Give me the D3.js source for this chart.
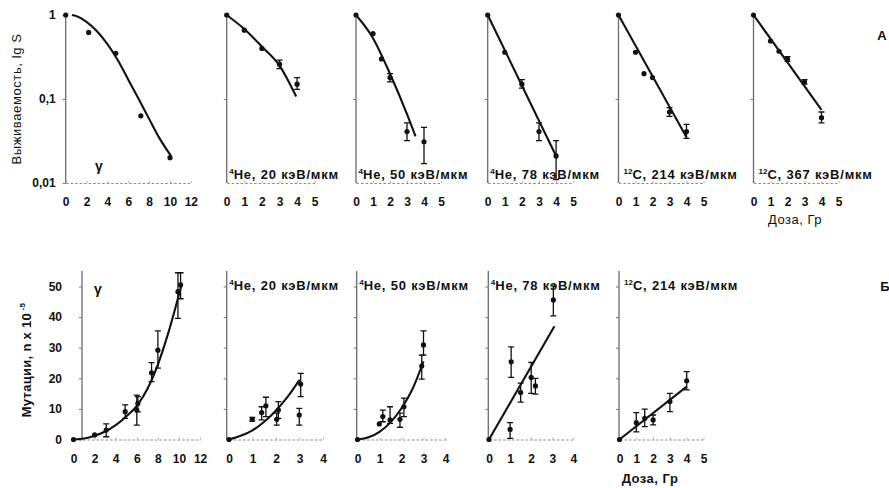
<!DOCTYPE html>
<html><head><meta charset="utf-8">
<script src="https://cdn.jsdelivr.net/npm/d3@7"></script>
<style>
body{margin:0;background:#fff}
svg text{font-family:"Liberation Sans",Arial,sans-serif;fill:#111}
</style>
</head><body>
<svg id="c" width="889" height="488"></svg>
<script>
// ================= DATA =================
// --- A: survival (lg S) vs dose (Gy) ---
const survGammaDose = [0, 2.2, 4.8, 7.2, 10];
const survGammaVal  = [1, 0.62, 0.35, 0.063, 0.02];
const survGammaLo   = [null, null, null, null, null];
const survGammaHi   = [null, null, null, null, null];
const survGammaFitDose = [0.6, 1, 2, 3, 4, 5, 6, 7, 8, 9, 10.1];
const survGammaFitVal  = [1, 0.97, 0.83, 0.64, 0.45, 0.29, 0.17, 0.1, 0.058, 0.034, 0.021];

const survHe20Dose = [0, 1, 2, 3, 4];
const survHe20Val  = [1, 0.66, 0.40, 0.26, 0.15];
const survHe20Lo   = [null, null, null, 0.23, 0.13];
const survHe20Hi   = [null, null, null, 0.29, 0.18];
const survHe20FitDose = [0, 1, 2, 3, 3.95];
const survHe20FitVal  = [1, 0.68, 0.42, 0.25, 0.107];

const survHe50Dose = [0, 1, 1.5, 2, 3, 4];
const survHe50Val  = [1, 0.6, 0.3, 0.18, 0.041, 0.031];
const survHe50Lo   = [null, null, null, 0.16, 0.032, 0.017];
const survHe50Hi   = [null, null, null, 0.2, 0.052, 0.046];
const survHe50FitDose = [0, 1, 2, 3, 3.5];
const survHe50FitVal  = [1, 0.53, 0.2, 0.066, 0.036];

const survHe78Dose = [0, 1, 2, 3, 4];
const survHe78Val  = [1, 0.36, 0.15, 0.041, 0.021];
const survHe78Lo   = [null, null, 0.135, 0.032, 0.011];
const survHe78Hi   = [null, null, 0.17, 0.052, 0.032];
const survHe78FitDose = [0, 4];
const survHe78FitVal  = [1, 0.021];

const survC214Dose = [0, 1, 1.5, 2, 3, 4];
const survC214Val  = [1, 0.36, 0.2, 0.18, 0.07, 0.041];
const survC214Lo   = [null, null, null, null, 0.062, 0.034];
const survC214Hi   = [null, null, null, null, 0.079, 0.05];
const survC214FitDose = [0, 4];
const survC214FitVal  = [1, 0.035];

const survC367Dose = [0, 1, 1.5, 2, 3, 4];
const survC367Val  = [1, 0.49, 0.37, 0.3, 0.16, 0.06];
const survC367Lo   = [null, null, null, 0.28, 0.15, 0.052];
const survC367Hi   = [null, null, null, 0.32, 0.17, 0.07];
const survC367FitDose = [0, 4];
const survC367FitVal  = [1, 0.074];

// --- Б: mutations (n x 10^-5) vs dose (Gy) ---
const mutGammaDose = [0, 2, 3.1, 4.9, 6, 6.1, 7.4, 8, 9.9, 10.15];
const mutGammaVal  = [0, 1.5, 3.1, 9.1, 9.6, 11.8, 21.8, 29.2, 48.3, 50.5];
const mutGammaLo   = [null, null, 0.9, 6.9, 4.7, 9, 18.9, 23.3, 39.6, 46];
const mutGammaHi   = [null, null, 5.1, 11.3, 14.5, 14, 25.1, 35.5, 54.5, 54.5];
const mutGammaFitDose = [0, 1, 2, 3, 4, 5, 6, 7, 8, 9, 10.2];
const mutGammaFitVal  = [0, 0.3, 1.2, 2.6, 4.7, 7.5, 11, 16.5, 24.5, 35, 50];

const mutHe20Dose = [0, 0.99, 1.39, 1.57, 2.03, 2.1, 2.99, 3.05];
const mutHe20Val  = [0, 6.6, 8.8, 11, 6.6, 9.6, 8, 18.1];
const mutHe20Lo   = [null, 6, 6.4, 7.5, 4.7, 6.9, 4.7, 14];
const mutHe20Hi   = [null, 7.2, 10.7, 13.8, 8.6, 12.4, 10.2, 21.6];
const mutHe20FitDose = [0, 0.5, 1, 1.5, 2, 2.5, 3];
const mutHe20FitVal  = [0, 1.2, 3, 5.8, 9.5, 14, 19.5];

const mutHe50Dose = [0, 0.99, 1.15, 1.48, 1.93, 2.11, 2.92, 3.0];
const mutHe50Val  = [0, 5.1, 7.5, 6.4, 6.6, 10.7, 24, 30.9];
const mutHe50Lo   = [null, null, 5.8, 5.3, 4, 7.5, 19.7, 27.6];
const mutHe50Hi   = [null, null, 9.6, 10.7, 8.6, 13.5, 27.6, 35.5];
const mutHe50FitDose = [0, 0.5, 1, 1.5, 2, 2.5, 3];
const mutHe50FitVal  = [0, 0.7, 2.5, 5.6, 10.2, 16.5, 25.5];

const mutHe78Dose = [0, 1.0, 1.05, 1.5, 2.0, 2.2, 3.05];
const mutHe78Val  = [0, 3.3, 25.4, 15.4, 20.3, 17.5, 45.6];
const mutHe78Lo   = [null, 0.4, 20.3, 12.2, 15.1, 14.8, 40.4];
const mutHe78Hi   = [null, 5.5, 30.3, 18.4, 25.2, 20, 50.2];
const mutHe78FitDose = [0, 3.1];
const mutHe78FitVal  = [0, 37];

const mutC214Dose = [0, 1, 1.5, 2, 3, 4];
const mutC214Val  = [0, 5.5, 6.9, 6.4, 12.4, 19.2];
const mutC214Lo   = [null, 2.5, 4.2, 4.8, 9.1, 16.2];
const mutC214Hi   = [null, 8.8, 9.9, 8, 15.1, 22.2];
const mutC214FitDose = [0, 4];
const mutC214FitVal  = [0, 17.3];

// tick labels
const survTickValues = [1, 0.1, 0.01];
const survTickLabels = ["1", "0,1", "0,01"];
const mutTickValues = [0, 10, 20, 30, 40, 50];
const doseTicks12 = [0, 2, 4, 6, 8, 10, 12];
const doseTicks5 = [0, 1, 2, 3, 4, 5];
const doseTicks4 = [0, 1, 2, 3, 4];

// ================= LAYOUT / RENDER =================
const svg = d3.select("#c");
const FONT = '"Liberation Sans",Arial,sans-serif';
const topY = d3.scaleLog().domain([0.01, 1]).range([183, 15]);
const botY = d3.scaleLinear().domain([0, 50]).range([439.5, 286.5]);

function zipPts(d, v, lo, hi) { return d.map((x, i) => ({x, y: v[i], lo: lo[i], hi: hi[i]})); }
function zipFit(d, v) { return d.map((x, i) => ({x, y: v[i]})); }

const topPanels = [
  {x0: 65.7, k: 10.43, max: 12, ticks: doseTicks12, sup: null, name: "γ", lx: 99, ly: 171, gamma: true,
   pts: zipPts(survGammaDose, survGammaVal, survGammaLo, survGammaHi), fit: zipFit(survGammaFitDose, survGammaFitVal), curve: d3.curveMonotoneX},
  {x0: 226.7, k: 17.6, max: 5, ticks: doseTicks5, sup: "4", name: "He, 20 кэВ/мкм", dx: 2.5,
   pts: zipPts(survHe20Dose, survHe20Val, survHe20Lo, survHe20Hi), fit: zipFit(survHe20FitDose, survHe20FitVal), curve: d3.curveMonotoneX},
  {x0: 356, k: 17, max: 5, ticks: doseTicks5, sup: "4", name: "He, 50 кэВ/мкм", dx: 2.5,
   pts: zipPts(survHe50Dose, survHe50Val, survHe50Lo, survHe50Hi), fit: zipFit(survHe50FitDose, survHe50FitVal), curve: d3.curveMonotoneX},
  {x0: 487.7, k: 17.1, max: 5, ticks: doseTicks5, sup: "4", name: "He, 78 кэВ/мкм", dx: 2.5,
   pts: zipPts(survHe78Dose, survHe78Val, survHe78Lo, survHe78Hi), fit: zipFit(survHe78FitDose, survHe78FitVal), curve: d3.curveLinear},
  {x0: 618.5, k: 17, max: 5, ticks: doseTicks5, sup: "12", name: "C, 214 кэВ/мкм", dx: 5,
   pts: zipPts(survC214Dose, survC214Val, survC214Lo, survC214Hi), fit: zipFit(survC214FitDose, survC214FitVal), curve: d3.curveLinear},
  {x0: 753.5, k: 17, max: 5, ticks: doseTicks5, sup: "12", name: "C, 367 кэВ/мкм", dx: 5,
   pts: zipPts(survC367Dose, survC367Val, survC367Lo, survC367Hi), fit: zipFit(survC367FitDose, survC367FitVal), curve: d3.curveLinear}
];

const botPanels = [
  {x0: 73.5, k: 10.55, max: 12, ticks: doseTicks12, axisX: 82, sup: null, name: "γ", lx: 98, ly: 294, gamma: true,
   pts: zipPts(mutGammaDose, mutGammaVal, mutGammaLo, mutGammaHi), fit: zipFit(mutGammaFitDose, mutGammaFitVal), curve: d3.curveMonotoneX},
  {x0: 229, k: 23.5, max: 4, ticks: doseTicks4, axisX: 226.7, sup: "4", name: "He, 20 кэВ/мкм", dx: 2.5,
   pts: zipPts(mutHe20Dose, mutHe20Val, mutHe20Lo, mutHe20Hi), fit: zipFit(mutHe20FitDose, mutHe20FitVal), curve: d3.curveMonotoneX},
  {x0: 357.5, k: 22, max: 4, ticks: doseTicks4, axisX: 356.7, sup: "4", name: "He, 50 кэВ/мкм", dx: 2.5,
   pts: zipPts(mutHe50Dose, mutHe50Val, mutHe50Lo, mutHe50Hi), fit: zipFit(mutHe50FitDose, mutHe50FitVal), curve: d3.curveMonotoneX},
  {x0: 489, k: 21.1, max: 4, ticks: doseTicks4, axisX: 488.3, sup: "4", name: "He, 78 кэВ/мкм", dx: 2.5,
   pts: zipPts(mutHe78Dose, mutHe78Val, mutHe78Lo, mutHe78Hi), fit: zipFit(mutHe78FitDose, mutHe78FitVal), curve: d3.curveLinear},
  {x0: 619.5, k: 16.8, max: 5, ticks: doseTicks5, axisX: 619, sup: "12", name: "C, 214 кэВ/мкм", dx: 5,
   pts: zipPts(mutC214Dose, mutC214Val, mutC214Lo, mutC214Hi), fit: zipFit(mutC214FitDose, mutC214FitVal), curve: d3.curveLinear}
];

function drawPanel(p, y, isTop, first) {
  const x = d3.scaleLinear().domain([0, p.max]).range([p.x0, p.x0 + p.k * p.max]);
  const g = svg.append("g");
  const y0 = y.range()[0];
  const axX = isTop ? p.x0 : p.axisX;
  const yTop = isTop ? 14 : 271;

  // x axis (dotted baseline)
  const xa = d3.axisBottom(x).tickValues(p.ticks).tickSizeInner(-2).tickSizeOuter(0).tickPadding(14.5)
    .tickFormat(d3.format("d"));
  const gx = g.append("g").attr("transform", `translate(0,${y0})`).call(xa);
  gx.select(".domain").attr("stroke", "#8a8a8a").attr("stroke-width", 1.1).attr("stroke-dasharray", "2.5,2");
  gx.selectAll(".tick line").attr("stroke", "#999").attr("stroke-width", 0.8);
  gx.selectAll(".tick text").attr("font-size", 12).attr("font-weight", "bold").attr("fill", "#111")
    .attr("font-family", FONT);

  // y axis
  let ya;
  if (isTop) {
    ya = d3.axisLeft(y).tickValues(first ? survTickValues : [0.1]).tickSizeOuter(0)
      .tickSizeInner(3).tickPadding(7).tickFormat((d) => first ? survTickLabels[survTickValues.indexOf(d)] : "");
  } else {
    ya = d3.axisLeft(y).tickValues(mutTickValues.filter(v => first || v > 0)).tickSizeOuter(0)
      .tickSizeInner(3).tickPadding(first ? 17 : 3).tickFormat(d => first ? d : "");
  }
  const gy = g.append("g").attr("transform", `translate(${axX},0)`).call(ya);
  gy.select(".domain").attr("d", `M0,${yTop}V${y0}`).attr("stroke", "#6a6a6a").attr("stroke-width", 1.3);
  gy.selectAll(".tick line").attr("stroke", "#777").attr("stroke-width", 1);
  gy.selectAll(".tick text").attr("font-size", 12).attr("font-weight", "bold").attr("fill", "#111")
    .attr("font-family", FONT);

  // fit line
  const line = d3.line().x(d => x(d.x)).y(d => y(d.y)).curve(p.curve);
  g.append("path").datum(p.fit).attr("d", line).attr("fill", "none").attr("stroke", "#111").attr("stroke-width", 2.1);

  // error bars
  const eb = p.pts.filter(d => d.lo != null);
  g.selectAll(".eb").data(eb).enter().append("path")
    .attr("d", d => {
      const cx = x(d.x), a = y(d.hi), b = y(d.lo);
      return `M${cx},${a}V${b}M${cx - 3},${a}H${cx + 3}M${cx - 3},${b}H${cx + 3}`;
    })
    .attr("stroke", "#111").attr("stroke-width", 1.3).attr("fill", "none");

  // points
  g.selectAll(".pt").data(p.pts).enter().append("circle")
    .attr("cx", d => x(d.x)).attr("cy", d => y(d.y)).attr("r", 2.6).attr("fill", "#111");

  // panel label
  const ly = isTop ? 178.5 : 289.5;
  if (p.gamma) {
    g.append("text").attr("x", p.lx).attr("y", p.ly).attr("text-anchor", "middle")
      .attr("font-size", 14).attr("font-weight", "bold").text(p.name);
  } else {
    const t = g.append("text").attr("x", axX + p.dx).attr("y", ly).attr("font-size", 13)
      .attr("font-weight", "bold").attr("letter-spacing", 0.8);
    t.append("tspan").attr("font-size", 8).attr("dy", -5).attr("letter-spacing", 0).text(p.sup);
    t.append("tspan").attr("dy", 5).text(p.name);
  }
}

topPanels.forEach((p, i) => drawPanel(p, topY, true, i === 0));
botPanels.forEach((p, i) => drawPanel(p, botY, false, i === 0));

// axis titles
svg.append("text").attr("transform", "translate(21,99) rotate(-90)").attr("text-anchor", "middle")
  .attr("font-size", 13).attr("letter-spacing", 0.6).text("Выживаемость, lg S");
const mt = svg.append("text").attr("transform", "translate(31,360) rotate(-90)").attr("text-anchor", "middle")
  .attr("font-size", 13).attr("font-weight", "bold").attr("letter-spacing", 0.3);
mt.append("tspan").text("Мутации, n x 10");
mt.append("tspan").attr("font-size", 8).attr("dy", -6).text(" -5");

svg.append("text").attr("x", 795).attr("y", 223.5).attr("text-anchor", "middle").attr("font-size", 13)
  .attr("letter-spacing", 0.5).text("Доза, Гр");
svg.append("text").attr("x", 650).attr("y", 483).attr("text-anchor", "middle").attr("font-size", 13)
  .attr("font-weight", "bold").attr("letter-spacing", 0.5).text("Доза, Гр");

svg.append("text").attr("x", 882).attr("y", 40).attr("text-anchor", "middle").attr("font-size", 13)
  .attr("font-weight", "bold").text("A");
svg.append("text").attr("x", 885).attr("y", 291).attr("text-anchor", "middle").attr("font-size", 13)
  .attr("font-weight", "bold").text("Б");
</script>
</body></html>
